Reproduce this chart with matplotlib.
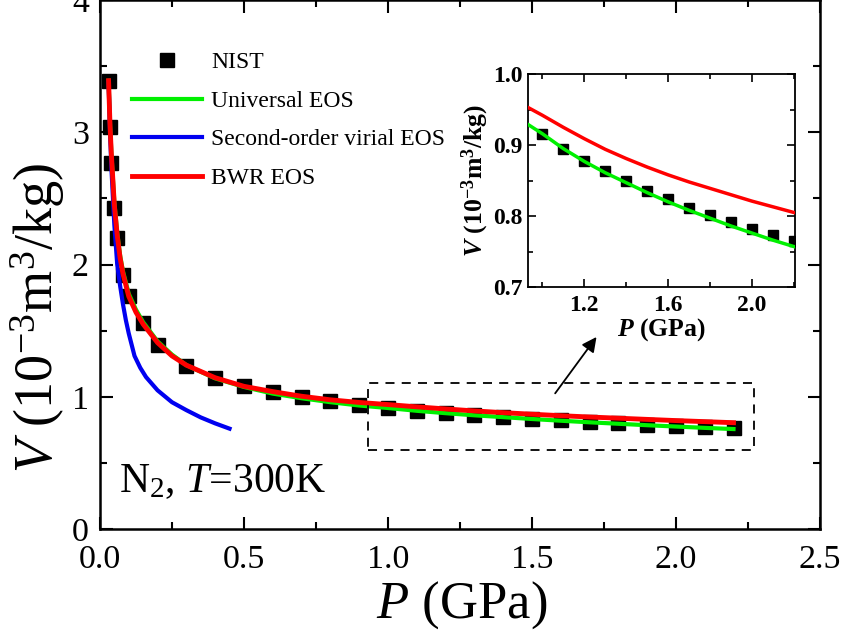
import matplotlib
matplotlib.use("Agg")
import matplotlib.pyplot as plt
from matplotlib.patches import Rectangle

plt.rcParams['font.family'] = ['Liberation Serif', 'DejaVu Serif']
plt.rcParams['mathtext.fontset'] = 'custom'
plt.rcParams['mathtext.rm'] = 'Liberation Serif'
plt.rcParams['mathtext.it'] = 'Liberation Serif:italic'
plt.rcParams['mathtext.bf'] = 'Liberation Serif:bold'
plt.rcParams['mathtext.bfit'] = 'Liberation Serif:bold:italic'

# NIST reference data, P in GPa, V in 1e-3 m^3/kg
nist_p = [0.03, 0.035, 0.04, 0.05, 0.06, 0.08, 0.1, 0.15, 0.2, 0.3, 0.4, 0.5,
          0.6, 0.7, 0.8, 0.9, 1.0, 1.1, 1.2, 1.3, 1.4, 1.5, 1.6, 1.7, 1.8,
          1.9, 2.0, 2.1, 2.2]
nist_v = [3.39, 3.04, 2.77, 2.43, 2.20, 1.92, 1.76, 1.56, 1.39, 1.235, 1.144,
          1.083, 1.038, 1.000, 0.970, 0.939, 0.916, 0.895, 0.878, 0.864, 0.850,
          0.835, 0.824, 0.812, 0.802, 0.791, 0.782, 0.774, 0.765]

# Universal EOS
uni_p = [0.03, 0.035, 0.04, 0.05, 0.06, 0.07, 0.08, 0.1, 0.125, 0.15, 0.2, 0.25,
         0.3, 0.4, 0.5, 0.6, 0.7, 0.8, 0.9, 1.0, 1.1, 1.2, 1.3, 1.4, 1.5, 1.6,
         1.7, 1.8, 1.9, 2.0, 2.1, 2.2]
uni_v = [3.39, 3.06, 2.83, 2.47, 2.24, 2.07, 1.95, 1.78, 1.66, 1.565, 1.42, 1.32,
         1.24, 1.14, 1.075, 1.025, 0.99, 0.96, 0.935, 0.916, 0.895, 0.877, 0.861,
         0.847, 0.833, 0.820, 0.808, 0.797, 0.786, 0.776, 0.766, 0.757]

# second-order virial EOS
vir_p = [0.03, 0.035, 0.04, 0.05, 0.06, 0.07, 0.08, 0.09, 0.1, 0.12, 0.14, 0.16,
         0.2, 0.25, 0.3, 0.35, 0.4, 0.45]
vir_v = [3.38, 3.0, 2.72, 2.3, 2.0, 1.84, 1.70, 1.58, 1.48, 1.31, 1.22, 1.15,
         1.05, 0.96, 0.90, 0.845, 0.80, 0.76]

# BWR EOS
bwr_p = [0.03, 0.035, 0.04, 0.05, 0.06, 0.07, 0.08, 0.1, 0.125, 0.15, 0.2, 0.25,
         0.3, 0.4, 0.5, 0.6, 0.7, 0.8, 0.9, 1.0, 1.1, 1.2, 1.3, 1.4, 1.5, 1.6,
         1.7, 1.8, 1.9, 2.0, 2.1, 2.2]
bwr_v = [3.39, 3.05, 2.82, 2.45, 2.22, 2.05, 1.93, 1.76, 1.64, 1.55, 1.41, 1.31,
         1.24, 1.145, 1.08, 1.04, 1.005, 0.978, 0.958, 0.942, 0.925, 0.909, 0.894,
         0.881, 0.869, 0.858, 0.848, 0.839, 0.830, 0.821, 0.813, 0.805]

fig = plt.figure(figsize=(8.47, 6.3), dpi=100)
ax = fig.add_axes([0.118, 0.160, 0.850, 0.840])

ax.plot(nist_p, nist_v, 's', color='black', markersize=10, label='NIST', zorder=2)
ax.plot(uni_p, uni_v, color='#00f000', linewidth=3, label='Universal EOS', zorder=3)
ax.plot(vir_p, vir_v, color='#0000f0', linewidth=3, label='Second-order virial EOS', zorder=3)
ax.plot(bwr_p, bwr_v, color='#ff0000', linewidth=3.5, label='BWR EOS', zorder=4)

ax.set_xlim(0, 2.5)
ax.set_ylim(0, 4)
ax.set_xticks([0, 0.5, 1.0, 1.5, 2.0, 2.5])
ax.set_xticklabels(['0.0', '0.5', '1.0', '1.5', '2.0', '2.5'])
ax.set_xticks([0.25, 0.75, 1.25, 1.75, 2.25], minor=True)
ax.set_yticks([0, 1, 2, 3, 4])
ax.set_yticks([0.5, 1.5, 2.5, 3.5], minor=True)
ax.tick_params(which='both', direction='in', top=True, right=True, labelsize=24.5, width=1.5)
ax.tick_params(which='major', length=9)
ax.tick_params(which='minor', length=5)
ax.tick_params(axis='x', pad=11)
ax.tick_params(axis='y', pad=8)
for s in ax.spines.values():
    s.set_linewidth(1.8)
ax.set_xlabel(r'$P$ (GPa)', fontsize=38)
ax.set_ylabel(r'$V$ (10$^{-3}$m$^3$/kg)', fontsize=39)
ax.xaxis.set_label_coords(0.503, -0.094)
ax.yaxis.set_label_coords(-0.046, 0.40)

leg = ax.legend(loc='upper left', bbox_to_anchor=(0.044, 0.902), frameon=False,
                fontsize=17, handlelength=3.0, handletextpad=0.38, labelspacing=0.72,
                borderpad=0, borderaxespad=0)

ax.text(0.026, 0.070, r'N$_2$, $T$=300K', transform=ax.transAxes, fontsize=30,
        va='baseline')

# zoom box and arrow
ax.add_patch(Rectangle((0.93, 0.6), 1.34, 0.505, fill=False, edgecolor='black',
                       linewidth=1.3, linestyle=(0, (5, 4)), zorder=5))
ax.annotate('', xy=(1.73, 1.47), xytext=(1.575, 1.01),
            arrowprops=dict(arrowstyle='-|>', color='black', lw=1.3,
                            mutation_scale=22))

# inset
ins = fig.add_axes([0.623, 0.5444, 0.3156, 0.338])
ins.plot(nist_p, nist_v, 's', color='black', markersize=7, zorder=2)
ins.plot(uni_p, uni_v, color='#00f000', linewidth=2.5, zorder=3)
ins.plot(bwr_p, bwr_v, color='#ff0000', linewidth=2.5, zorder=4)
ins.set_xlim(0.93, 2.205)
ins.set_ylim(0.7, 1.0)
ins.set_xticks([1.2, 1.6, 2.0])
ins.set_xticks([1.0, 1.4, 1.8, 2.2], minor=True)
ins.set_yticks([0.7, 0.8, 0.9, 1.0])
ins.set_yticks([0.75, 0.85, 0.95], minor=True)
ins.tick_params(which='both', direction='in', top=True, right=True, labelsize=17, width=1.2)
ins.tick_params(which='major', length=6)
ins.tick_params(which='minor', length=3.5)
ins.tick_params(axis='x', pad=6)
ins.tick_params(axis='y', pad=4)
for lab in ins.get_xticklabels() + ins.get_yticklabels():
    lab.set_fontweight('bold')
for s in ins.spines.values():
    s.set_linewidth(1.3)
ins.set_xlabel(r'$\mathbfit{P}$ $\mathbf{(GPa)}$', fontsize=18.5, labelpad=0)
ins.set_ylabel(r'$\mathbfit{V}$ $\mathbf{(10^{-3}m^3/kg)}$', fontsize=18.5, labelpad=1)

fig.savefig('out.png', dpi=100)
